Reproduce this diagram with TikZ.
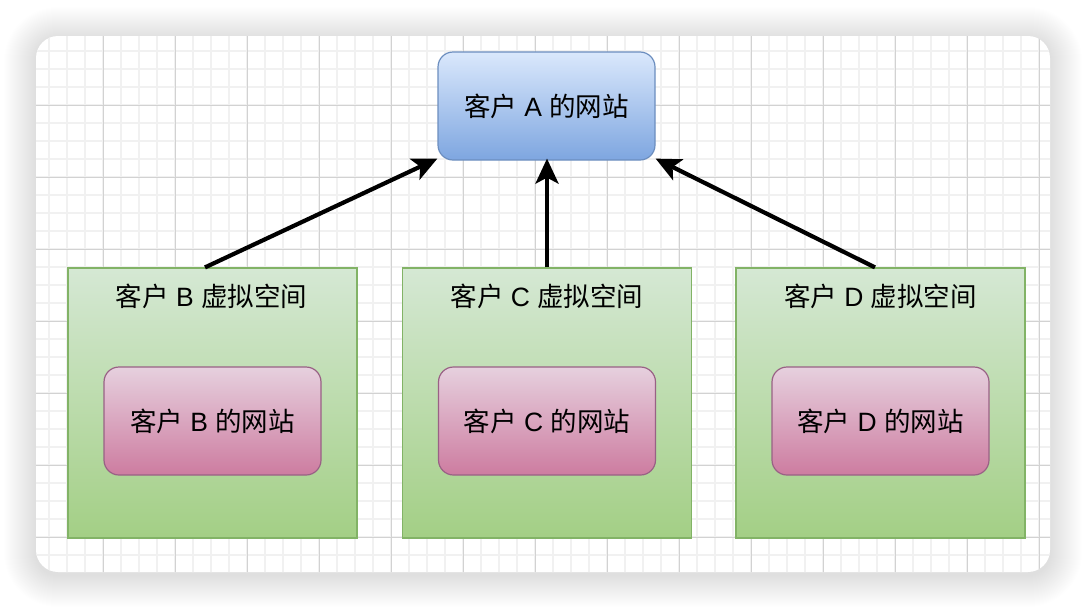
\documentclass[tikz,border=0pt]{standalone}
\usepackage{fontspec}
\newfontfamily\cjk{Noto Sans CJK SC}
\newfontfamily\latf{Liberation Sans}
\newcommand\latw[1]{{\latf\ #1\ }}
\usetikzlibrary{arrows.meta,calc}
\definecolor{gridminor}{HTML}{F1F1F1}
\definecolor{gridmajor}{HTML}{D2D2D2}
\definecolor{blueTop}{HTML}{DAE8FC}
\definecolor{blueBot}{HTML}{7EA6E0}
\definecolor{blueLine}{HTML}{6C8EBF}
\definecolor{greenTop}{HTML}{D5E8D4}
\definecolor{greenBot}{HTML}{A3CF85}
\definecolor{greenLine}{HTML}{82B366}
\definecolor{pinkTop}{HTML}{E6D0DE}
\definecolor{pinkBot}{HTML}{CD7CA0}
\definecolor{pinkLine}{HTML}{996185}
\tikzset{
  site/.style={shape=rectangle, rounded corners=15pt, minimum width=217pt, minimum height=108pt, line width=1.2pt, inner sep=0pt},
  siteA/.style={site, top color=blueTop, bottom color=blueBot, draw=blueLine},
  siteP/.style={site, top color=pinkTop, bottom color=pinkBot, draw=pinkLine},
  space/.style={shape=rectangle, minimum width=289pt, minimum height=270pt, inner sep=0pt, top color=greenTop, bottom color=greenBot, draw=greenLine, line width=1.2pt},
  title/.style={inner sep=0pt},
  link/.style={line width=4.2pt, -{Stealth[length=25pt,width=23pt,inset=6pt]}},
}
\begin{document}
\begin{tikzpicture}[x=1pt,y=-1pt,font=\cjk\fontsize{26.5}{32}\selectfont]
\useasboundingbox (0,0) rectangle (1086,608);
\fill[white] (0,0) rectangle (1086,608);
% shadow
\foreach \i in {1,...,32}{
  \fill[black,opacity=0.005,rounded corners={22pt+\i pt}] (36-\i,36-\i+3) rectangle (1050+\i,572+\i+3);
}
\fill[white,rounded corners=22pt] (36,36) rectangle (1050,572);
% grid
\begin{scope}
\clip[rounded corners=22pt] (36,36) rectangle (1050,572);
\foreach \x in {13,31,...,1060}{\draw[gridminor,line width=1.3pt] (\x,30) -- (\x,580);}
\foreach \y in {15,33,...,580}{\draw[gridminor,line width=1.3pt] (30,\y) -- (1060,\y);}
\foreach \x in {31,103,...,1060}{\draw[gridmajor,line width=0.8pt] (\x,30) -- (\x,580);}
\foreach \y in {33,105,...,580}{\draw[gridmajor,line width=0.8pt] (30,\y) -- (1060,\y);}
\end{scope}
% nodes
\node[siteA] (A) at (546.5,106) {客户\latw{A}的网站};
\node[space] (gB) at (212.5,403) {};
\node[space] (gC) at (547,403) {};
\node[space] (gD) at (880.5,403) {};
\node[title] (tB) at (211.5,296) {客户\latw{B}虚拟空间};
\node[title] (tC) at (547,296) {客户\latw{C}虚拟空间};
\node[title] (tD) at (880.5,296) {客户\latw{D}虚拟空间};
\node[siteP] (pB) at (212.5,421) {客户\latw{B}的网站};
\node[siteP] (pC) at (547,421) {客户\latw{C}的网站};
\node[siteP] (pD) at (880.5,421) {客户\latw{D}的网站};
% connectors
\draw[link] ($(gB.north)+(-7.5,0)$) -- ($(A.south west)+(0,-2)$);
\draw[link] (gC.north) -- ($(A.south)+(0.5,-2)$);
\draw[link] ($(gD.north)+(-5.5,0)$) -- ($(A.south east)+(0,-2)$);
\end{tikzpicture}
\end{document}
